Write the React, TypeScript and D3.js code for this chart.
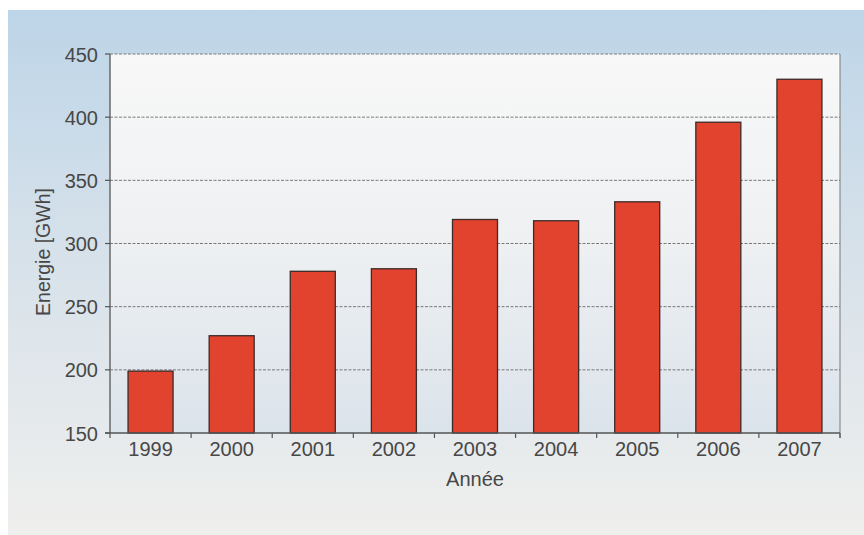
import * as d3 from "d3";
import React from "react";

const years = ["1999", "2000", "2001", "2002", "2003", "2004", "2005", "2006", "2007"];
const energy = [199, 227, 278, 280, 319, 318, 333, 396, 430];
const yTicks = [150, 200, 250, 300, 350, 400, 450];

export default function App() {
  const W = 864;
  const H = 535;
  const plot = { left: 110, right: 840, top: 54, bottom: 433 };

  const x = d3
    .scaleBand()
    .domain(years)
    .range([plot.left, plot.right])
    .paddingInner(0.445)
    .paddingOuter(0.2225);
  const y = d3.scaleLinear().domain([150, 450]).range([plot.bottom, plot.top]);
  const step = x.step();
  const boundaries = d3.range(years.length + 1).map((i) => plot.left + i * step);

  const font = "'Liberation Sans', Arial, sans-serif";
  const textColor = "#474747";

  return (
    <div style={{ position: "absolute", left: 0, top: 0 }}>
      <svg width={W} height={H} style={{ display: "block", background: "#fff" }}>
        <defs>
          <linearGradient id="outerBg" x1="0" y1="0" x2="0" y2="1">
            <stop offset="0" stopColor="#bdd5e8" />
            <stop offset="0.45" stopColor="#d6e1ea" />
            <stop offset="1" stopColor="#efefed" />
          </linearGradient>
          <linearGradient id="plotBg" x1="0" y1="0" x2="0" y2="1">
            <stop offset="0" stopColor="#f8f8f8" />
            <stop offset="0.5" stopColor="#eef0f2" />
            <stop offset="1" stopColor="#dbe3eb" />
          </linearGradient>
        </defs>

        <rect x={8} y={10} width={W - 8} height={H - 10} fill="url(#outerBg)" />
        <rect
          x={plot.left}
          y={plot.top}
          width={plot.right - plot.left}
          height={plot.bottom - plot.top}
          fill="url(#plotBg)"
        />

        {/* grid lines */}
        {yTicks
          .filter((t) => t > 150)
          .map((t) => (
            <line
              key={t}
              x1={plot.left}
              x2={plot.right}
              y1={y(t)}
              y2={y(t)}
              stroke="#7a7a7a"
              strokeWidth={1}
              strokeDasharray="3,1.5"
            />
          ))}
        <line
          x1={plot.right}
          x2={plot.right}
          y1={plot.top}
          y2={plot.bottom + 5}
          stroke="#7a7a7a"
          strokeWidth={1}
        />

        {/* bars */}
        {years.map((yr, i) => (
          <rect
            key={yr}
            x={x(yr)}
            y={y(energy[i])}
            width={x.bandwidth()}
            height={plot.bottom - y(energy[i])}
            fill="#e2432e"
            stroke="#3b2b29"
            strokeWidth={1.3}
          />
        ))}

        {/* axes */}
        <line x1={plot.left} x2={plot.left} y1={plot.top} y2={plot.bottom} stroke="#555" strokeWidth={1.3} />
        <line x1={plot.left - 5} x2={plot.right} y1={plot.bottom} y2={plot.bottom} stroke="#555" strokeWidth={1.3} />
        {yTicks.map((t) => (
          <g key={t}>
            <line x1={plot.left - 5} x2={plot.left} y1={y(t)} y2={y(t)} stroke="#555" strokeWidth={1.2} />
            <text
              x={plot.left - 12}
              y={y(t) + 7.5}
              textAnchor="end"
              fontFamily={font}
              fontSize={20}
              fill={textColor}
            >
              {t}
            </text>
          </g>
        ))}
        {boundaries.map((bx, i) => (
          <line key={i} x1={bx} x2={bx} y1={plot.bottom} y2={plot.bottom + 5} stroke="#555" strokeWidth={1.2} />
        ))}
        {years.map((yr) => (
          <text
            key={yr}
            x={(x(yr) as number) + x.bandwidth() / 2}
            y={456}
            textAnchor="middle"
            fontFamily={font}
            fontSize={20}
            fill={textColor}
          >
            {yr}
          </text>
        ))}

        <text
          x={(plot.left + plot.right) / 2}
          y={486}
          textAnchor="middle"
          fontFamily={font}
          fontSize={20}
          fill={textColor}
        >
          Année
        </text>
        <text
          transform={`translate(50, 252) rotate(-90)`}
          textAnchor="middle"
          fontFamily={font}
          fontSize={19.5}
          fill={textColor}
        >
          Energie [GWh]
        </text>
      </svg>
    </div>
  );
}
